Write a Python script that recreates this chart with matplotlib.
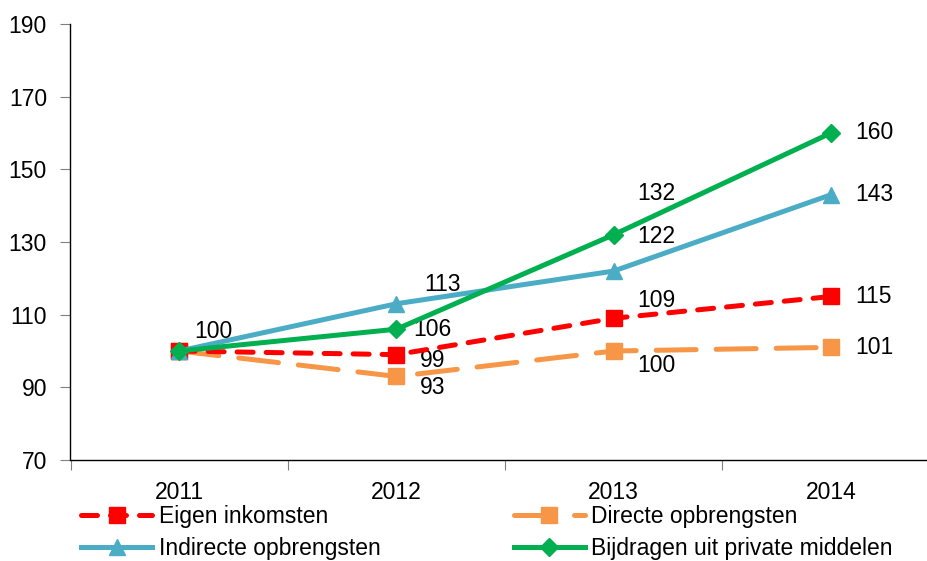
import matplotlib
matplotlib.use("Agg")
import matplotlib.pyplot as plt

years = ["2011", "2012", "2013", "2014"]
eigen = [100, 99, 109, 115]
directe = [100, 93, 100, 101]
indirecte = [100, 113, 122, 143]
bijdragen = [100, 106, 132, 160]

plt.rcParams['font.family'] = ['Liberation Sans', 'DejaVu Sans']
fs = 16.5
plt.rcParams['font.size'] = fs

fig = plt.figure(figsize=(9.28, 5.61), dpi=100)
ax = fig.add_axes([70.5/928, 1 - 460/561, 1 - 70.5/928, (460 - 24)/561])

x = range(len(years))
lw = 3.6
l1, = ax.plot(x, eigen, color='#FF0000', lw=lw, ls=(0, (3.2, 2.6)), dash_capstyle='round',
              marker='s', ms=11, label='Eigen inkomsten', zorder=4)
l2, = ax.plot(x, directe, color='#F79646', lw=lw, ls=(0, (8, 4)), dash_capstyle='round',
              marker='s', ms=11, label='Directe opbrengsten', zorder=3)
l3, = ax.plot(x, indirecte, color='#4BACC6', lw=lw, marker='^', ms=12,
              label='Indirecte opbrengsten', zorder=5)
l4, = ax.plot(x, bijdragen, color='#00B050', lw=lw, marker='D', ms=9,
              label='Bijdragen uit private middelen', zorder=6)

# data labels (offsets in pixels, matching the reference placement)
def lab(i, v, dx, dy):
    ax.annotate(str(v), (i, v), xytext=(dx, dy), textcoords='offset pixels',
                ha='center', va='center', fontsize=fs)

lab(0, 100, 34, 20)
lab(1, indirecte[1], 46, 19)
lab(1, bijdragen[1], 36, 0)
lab(1, eigen[1], 36, -6)
lab(1, directe[1], 36, -11)
lab(2, bijdragen[2], 43, 41)
lab(2, indirecte[2], 43, 35)
lab(2, eigen[2], 43, 18)
lab(2, directe[2], 43, -14)
for s in (eigen, directe, indirecte, bijdragen):
    lab(3, s[3], 43, 0)

ax.set_ylim(70, 190)
ax.set_yticks(range(70, 191, 20))
ax.set_xlim(-0.5, (928 - 179) / 217.3)
ax.set_xticks([i - 0.5 for i in range(4)])
ax.set_xticklabels([])
ax.set_xticks(list(x), minor=True)
ax.set_xticklabels(years, minor=True)
ax.tick_params(axis='x', which='minor', length=0, pad=15)
ax.tick_params(axis='x', which='major', length=7, color='#808080', direction='out')
ax.tick_params(axis='y', length=7, color='#808080', direction='out', pad=10)

for s in ('top', 'right'):
    ax.spines[s].set_visible(False)
for s in ('left', 'bottom'):
    ax.spines[s].set_linewidth(1.0)

fig.legend([l1, l3, l2, l4], [l.get_label() for l in (l1, l3, l2, l4)],
           ncol=2, loc='upper left', bbox_to_anchor=(81/928, 1 - 505/561),
           frameon=False, handlelength=3.1, handletextpad=0.3, columnspacing=5.8,
           labelspacing=0.4, borderaxespad=0, borderpad=0, fontsize=fs)

fig.savefig('out.png', dpi=100)
